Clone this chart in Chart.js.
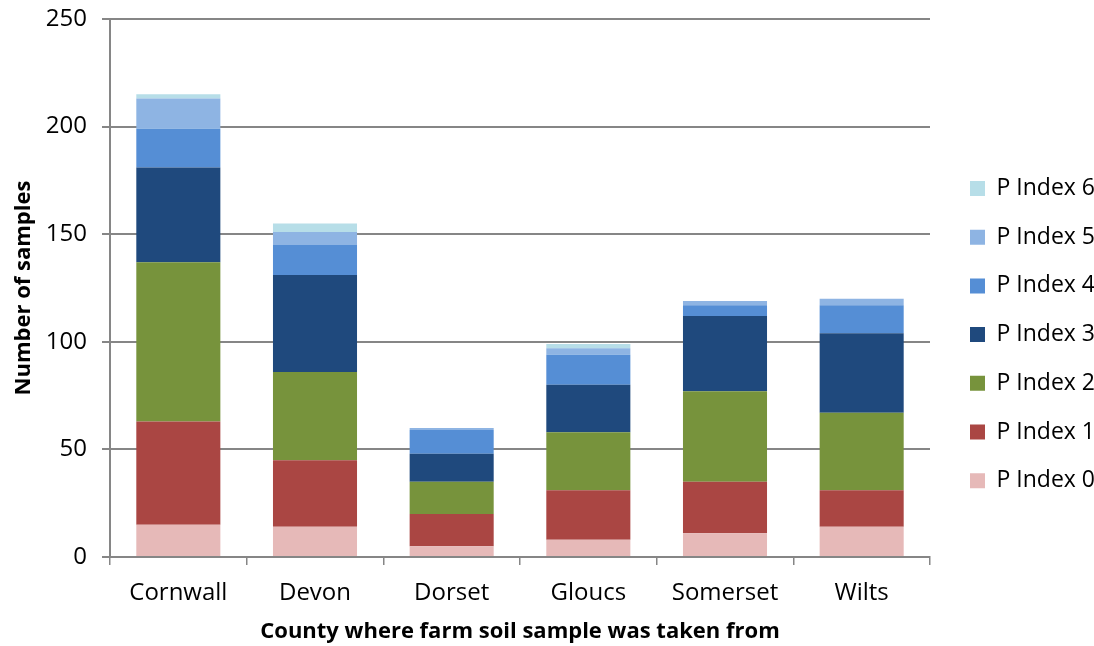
<!DOCTYPE html>
<html>
<head>
<meta charset="utf-8">
<script src="https://cdn.jsdelivr.net/npm/chart.js@4/dist/chart.umd.min.js"></script>
<style>
  html, body { margin: 0; padding: 0; background: #ffffff; }
  #wrap { width: 1094px; height: 646px; position: relative; }
</style>
</head>
<body>
<div id="wrap"><canvas id="chart" width="1094" height="646"></canvas></div>
<script>
// Soil phosphorus index counts by county
const counties = ['Cornwall', 'Devon', 'Dorset', 'Gloucs', 'Somerset', 'Wilts'];
const seriesNames = ['P Index 0', 'P Index 1', 'P Index 2', 'P Index 3', 'P Index 4', 'P Index 5', 'P Index 6'];
const pIndex0 = [15, 14, 5, 8, 11, 14];
const pIndex1 = [48, 31, 15, 23, 24, 17];
const pIndex2 = [74, 41, 15, 27, 42, 36];
const pIndex3 = [44, 45, 13, 22, 35, 37];
const pIndex4 = [18, 14, 11, 14, 5, 13];
const pIndex5 = [14, 6, 1, 3, 2, 3];
const pIndex6 = [2, 4, 0, 2, 0, 0];
const yTicks = [0, 50, 100, 150, 200, 250];
const seriesColors = ['#E6B9B8', '#AA4643', '#77933C', '#1F497D', '#558ED5', '#8EB4E3', '#B7DEE8'];

const seriesValues = [pIndex0, pIndex1, pIndex2, pIndex3, pIndex4, pIndex5, pIndex6];
const FONT = "'Open Sans', 'Noto Sans', sans-serif";
const GRID = '#868686';

// Frame of the plotting area and legend placement
const AREA_LEFT = 110;
const AREA_RIGHT = 930;
const AREA_TOP = 19;
const AREA_BOTTOM = 557;
const CANVAS_W = 1094;
const CANVAS_H = 646;
const LEGEND_FONT = 23;
const LEGEND_GAP = 25.7;
const LEGEND_BOX_X = 970;
const LEGEND_FIRST_ROW_TOP = 177;

const datasets = seriesNames.map((name, i) => ({
  label: name,
  data: seriesValues[i],
  backgroundColor: seriesColors[i],
  borderWidth: 0,
  barPercentage: 1,
  categoryPercentage: 0.615
}));

// Keeps the legend at a fixed width and moves it beside the plot
const legendPlacement = {
  id: 'legendPlacement',
  beforeLayout(chart) {
    const lg = chart.legend;
    if (lg && !lg.__fixed) {
      const fit = lg.fit.bind(lg);
      lg.fit = function () { fit(); this.width = CANVAS_W - AREA_RIGHT; };
      lg.__fixed = true;
    }
  },
  afterLayout(chart) {
    const lg = chart.legend;
    if (!lg) return;
    const w = lg.width;
    const h = lg.height;
    lg.left = LEGEND_BOX_X - LEGEND_GAP;
    lg.right = lg.left + w;
    lg.top = LEGEND_FIRST_ROW_TOP - LEGEND_GAP;
    lg.bottom = lg.top + h;
  }
};

new Chart(document.getElementById('chart'), {
  type: 'bar',
  data: { labels: counties, datasets },
  plugins: [legendPlacement],
  options: {
    responsive: false,
    animation: false,
    layout: { padding: { top: AREA_TOP, right: 0, bottom: 0, left: 0 } },
    plugins: {
      legend: {
        position: 'right',
        align: 'start',
        reverse: true,
        labels: {
          boxWidth: 15,
          boxHeight: 15,
          padding: LEGEND_GAP,
          color: '#000000',
          font: { family: FONT, size: LEGEND_FONT }
        }
      },
      tooltip: { enabled: false }
    },
    scales: {
      x: {
        stacked: true,
        afterFit: (axis) => { axis.height = CANVAS_H - AREA_BOTTOM; },
        grid: {
          display: true,
          drawOnChartArea: false,
          drawTicks: true,
          tickLength: 8,
          color: GRID,
          lineWidth: 1.5
        },
        border: { display: true, color: GRID, width: 2 },
        ticks: { color: '#000000', font: { family: FONT, size: 24 }, padding: 14 },
        title: {
          display: true,
          text: 'County where farm soil sample was taken from',
          color: '#000000',
          font: { family: FONT, size: 22, weight: 'bold' },
          padding: { top: 0, bottom: 1 }
        }
      },
      y: {
        stacked: true,
        min: 0,
        max: 250,
        afterFit: (axis) => {
          axis.width = AREA_LEFT;
          axis.paddingTop = 0;
          axis.paddingBottom = 0;
        },
        afterBuildTicks: (axis) => { axis.ticks = yTicks.map(v => ({ value: v })); },
        grid: {
          color: GRID,
          lineWidth: 2,
          tickLength: 8
        },
        border: { display: true, color: GRID, width: 2 },
        ticks: { color: '#000000', font: { family: FONT, size: 24 }, padding: 15 },
        title: {
          display: true,
          text: 'Number of samples',
          color: '#000000',
          font: { family: FONT, size: 22, weight: 'bold' },
          padding: { top: 10.4, bottom: 0 }
        }
      }
    }
  }
});
</script>
</body>
</html>
